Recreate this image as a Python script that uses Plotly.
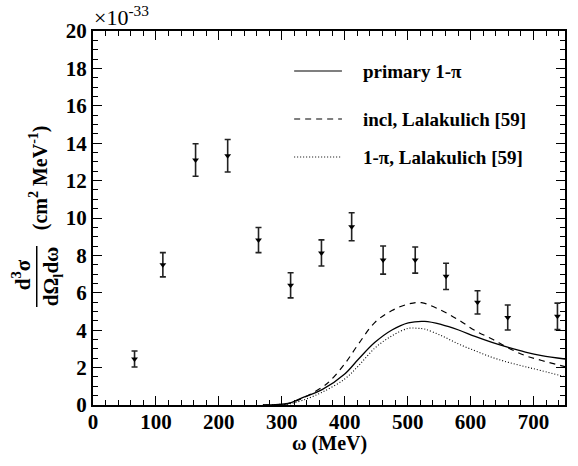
import plotly.graph_objects as go

# ---- data ----
data_x = [66, 111, 163, 214, 263, 314, 363, 411, 461, 512, 561, 611, 659, 738]
data_y = [2.46, 7.5, 13.1, 13.33, 8.82, 6.4, 8.13, 9.53, 7.75, 7.75, 6.88, 5.49, 4.68, 4.74]
data_err = [0.43, 0.65, 0.87, 0.87, 0.67, 0.67, 0.7, 0.75, 0.75, 0.7, 0.7, 0.62, 0.67, 0.71]

prim_x = [270, 290, 310, 332, 364, 400, 422, 448, 475, 501, 527, 554, 581, 607, 634, 660, 687, 713, 750]
prim_y = [0.0, 0.02, 0.08, 0.38, 0.82, 1.66, 2.46, 3.35, 4.01, 4.39, 4.47, 4.3, 4.01, 3.67, 3.35, 3.08, 2.83, 2.64, 2.46]

incl_x = [270, 290, 310, 332, 364, 377, 400, 422, 448, 475, 501, 522, 554, 581, 607, 634, 660, 687, 713, 750]
incl_y = [0.0, 0.02, 0.08, 0.35, 0.95, 1.3, 2.2, 3.27, 4.42, 5.05, 5.4, 5.47, 5.05, 4.55, 3.98, 3.53, 3.05, 2.64, 2.38, 2.05]

lala_x = [270, 290, 310, 332, 364, 400, 422, 448, 475, 501, 516, 527, 554, 581, 607, 634, 660, 687, 713, 750]
lala_y = [0.0, 0.01, 0.05, 0.24, 0.68, 1.39, 2.1, 3.05, 3.7, 4.1, 4.1, 4.06, 3.7, 3.26, 2.9, 2.55, 2.28, 2.05, 1.83, 1.51]

legend_labels = ["primary 1-π", "incl, Lalakulich [59]", "1-π, Lalakulich [59]"]
x_ticks = [0, 100, 200, 300, 400, 500, 600, 700]
y_ticks = [0, 2, 4, 6, 8, 10, 12, 14, 16, 18, 20]

FONT = "Times New Roman, Liberation Serif, Tinos, Times, serif"
W, H = 578, 466
L, R, T, B = 93, 11, 31, 61
PW, PH = W - L - R, H - T - B


def px_x(p):
    return (p - L) / PW


def px_y(p):
    return (H - B - p) / PH


fig = go.Figure()

fig.add_trace(go.Scatter(x=prim_x, y=prim_y, mode="lines", line=dict(color="black", width=1.3, shape="spline"),
                         showlegend=False))
fig.add_trace(go.Scatter(x=incl_x, y=incl_y, mode="lines",
                         line=dict(color="black", width=1.2, dash="6px,5px", shape="spline"), showlegend=False))
fig.add_trace(go.Scatter(x=lala_x, y=lala_y, mode="lines",
                         line=dict(color="black", width=1.1, dash="1px,2px", shape="spline"), showlegend=False))
fig.add_trace(go.Scatter(x=data_x, y=data_y, mode="markers",
                         marker=dict(symbol="triangle-down", size=6, color="black"),
                         error_y=dict(type="data", array=data_err, color="#222", thickness=1.6, width=3),
                         showlegend=False))

axis_common = dict(
    showline=True, linecolor="black", linewidth=2, mirror="ticks",
    ticks="inside", ticklen=9, tickwidth=1.3, tickcolor="black",
    showgrid=False, zeroline=False,
    tickfont=dict(family=FONT, size=21, color="black", weight="bold"),
)

fig.update_xaxes(range=[0, 750], tickvals=x_ticks, ticklabelstandoff=-3,
                 minor=dict(dtick=20, ticks="inside", ticklen=5, tickwidth=1.1, tickcolor="black"),
                 **axis_common)
fig.update_yaxes(range=[0, 20], tickvals=y_ticks,
                 minor=dict(dtick=0.5, ticks="inside", ticklen=5, tickwidth=1.1, tickcolor="black"),
                 **axis_common)

annotations = []
# exponent label
annotations.append(dict(x=px_x(92), y=px_y(32), xref="paper", yref="paper", xanchor="left", yanchor="bottom",
                        text="×10<sup>-33</sup>", showarrow=False,
                        font=dict(family=FONT, size=22, color="black")))
# x title
annotations.append(dict(x=px_x(330), y=px_y(443), xref="paper", yref="paper", xanchor="center", yanchor="middle",
                        text="ω (MeV)", showarrow=False,
                        font=dict(family=FONT, size=20, color="black", weight="bold")))
# y title pieces
annotations.append(dict(x=px_x(21), y=px_y(275), xref="paper", yref="paper", xanchor="center", yanchor="middle",
                        text="d<sup>3</sup>σ", textangle=-90, showarrow=False,
                        font=dict(family=FONT, size=21, color="black", weight="bold")))
annotations.append(dict(x=px_x(52), y=px_y(276), xref="paper", yref="paper", xanchor="center", yanchor="middle",
                        text="dΩ<sub>l</sub>dω", textangle=-90, showarrow=False,
                        font=dict(family=FONT, size=21, color="black", weight="bold")))
annotations.append(dict(x=px_x(38), y=px_y(178), xref="paper", yref="paper", xanchor="center", yanchor="middle",
                        text="(cm<sup>2</sup> MeV<sup>-1</sup>)", textangle=-90, showarrow=False,
                        font=dict(family=FONT, size=20, color="black", weight="bold")))

shapes = [dict(type="line", xref="paper", yref="paper", x0=px_x(36.5), x1=px_x(36.5), y0=px_y(246), y1=px_y(307),
               line=dict(color="black", width=1.5))]

# manual legend
leg_rows = [71, 119, 157]
leg_dash = ["solid", "6px,5px", "1px,2px"]
for lbl, ry, dsh in zip(legend_labels, leg_rows, leg_dash):
    shapes.append(dict(type="line", xref="paper", yref="paper", x0=px_x(295), x1=px_x(343), y0=px_y(ry), y1=px_y(ry),
                       line=dict(color="black", width=1.2, dash=dsh)))
    annotations.append(dict(x=px_x(362), y=px_y(ry), xref="paper", yref="paper", xanchor="left", yanchor="middle",
                            text=lbl, showarrow=False,
                            font=dict(family=FONT, size=19, color="black", weight="bold")))

fig.update_layout(
    width=W, height=H,
    margin=dict(l=L, r=R, t=T, b=B),
    paper_bgcolor="white", plot_bgcolor="white",
    font=dict(family=FONT, color="black"),
    annotations=annotations, shapes=shapes,
    showlegend=False,
)

fig.write_html("out.html")
